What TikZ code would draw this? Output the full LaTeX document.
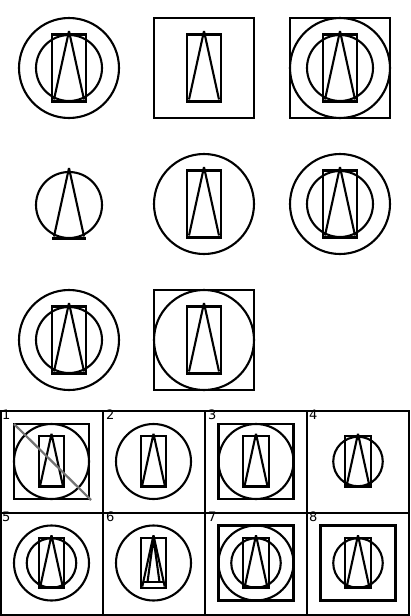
\documentclass[tikz,border=0pt]{standalone}
\usepackage{fontspec}
\newfontfamily\labfont{DejaVu Sans}
\tikzset{
  fig/.style={draw=black, line width=2.1pt, line join=miter},
  tri/.style={draw=black, line width=2.1pt, line join=bevel},
  thickbase/.style={draw=black, line width=3pt},
  grid/.style={draw=black, line width=2.2pt},
  lab/.style={font=\labfont\fontsize{13}{15}\selectfont, anchor=north west, inner sep=1pt},
  cross/.style={draw=black!55, line width=2.2pt}
}
\newcommand\RectTri{%
  \draw[fig] (-17,-33.5) rectangle (17,33.5);
  \draw[tri] (-15,31.5)--(0,-37)--(15,31.5);
  \draw[thickbase] (-17,33)--(17,33);}
\newcommand\TriOnly{%
  \draw[tri] (-15,31.5)--(0,-37)--(15,31.5);
  \draw[thickbase] (-17,33)--(17,33);}
\newcommand\OuterC{\draw[fig] (0,0) circle (50);}
\newcommand\InnerC{\draw[fig] (0,0) circle (33);}
\newcommand\SqBox{\draw[fig] (-50,-50) rectangle (50,50);}
\begin{document}
\begin{tikzpicture}[x=1pt,y=-1pt]
\useasboundingbox (0,0) rectangle (410,616);
\fill[white] (0,0) rectangle (410,616);
% ---- question grid ----
\begin{scope}[shift={(69,68)}]\OuterC\InnerC\RectTri\end{scope}
\begin{scope}[shift={(204,68)}]\SqBox\RectTri\end{scope}
\begin{scope}[shift={(340,68)}]\SqBox\OuterC\InnerC\RectTri\end{scope}
\begin{scope}[shift={(69,205)}]\InnerC\TriOnly\end{scope}
\begin{scope}[shift={(204,204)}]\OuterC\RectTri\end{scope}
\begin{scope}[shift={(340,204)}]\OuterC\InnerC\RectTri\end{scope}
\begin{scope}[shift={(69,340)}]\OuterC\InnerC\RectTri\end{scope}
\begin{scope}[shift={(204,340)}]\SqBox\OuterC\RectTri\end{scope}
% ---- answer grid ----
\draw[grid] (1,411) rectangle (409,615);
\draw[grid] (103,411)--(103,615);
\draw[grid] (205,411)--(205,615);
\draw[grid] (307,411)--(307,615);
\draw[grid] (1,513)--(409,513);
% answer 1
\begin{scope}[shift={(51.5,461.5)},scale=0.75]\SqBox\OuterC\RectTri\end{scope}
\draw[cross] (14,424)--(91,500);
% answer 2
\begin{scope}[shift={(153.5,461.5)},scale=0.75]\OuterC\RectTri\end{scope}
% answer 3
\begin{scope}[shift={(256,461.5)},scale=0.75]\SqBox\OuterC\RectTri\end{scope}
% answer 4
\begin{scope}[shift={(358,461.5)},scale=0.75]\InnerC\RectTri\end{scope}
% answer 5
\begin{scope}[shift={(51.5,563)},scale=0.75]\OuterC\InnerC\RectTri\end{scope}
% answer 6
\begin{scope}[shift={(153.5,563)},scale=0.75]
  \OuterC
  \draw[fig] (-17,-33.5) rectangle (17,33.5);
  \draw[tri] (-15,31.5)--(0,-37)--(15,31.5);
  \draw[fig] (-14,25.3)--(14,25.3);
  \draw[tri] (-8,25.3)--(0,-33)--(8,25.3);
\end{scope}
% answer 7
\begin{scope}[shift={(256,563)},scale=0.75]\SqBox\OuterC\InnerC\RectTri\end{scope}
% answer 8
\begin{scope}[shift={(358,563)},scale=0.75]\SqBox\InnerC\RectTri\end{scope}
% labels
\node[lab] (l1) at (1,409) {1};
\node[lab] (l2) at (105,409) {2};
\node[lab] (l3) at (207,409) {3};
\node[lab] (l4) at (308,409) {4};
\node[lab] (l5) at (1,511) {5};
\node[lab] (l6) at (105,511) {6};
\node[lab] (l7) at (207,511) {7};
\node[lab] (l8) at (308,511) {8};
\end{tikzpicture}
\end{document}
